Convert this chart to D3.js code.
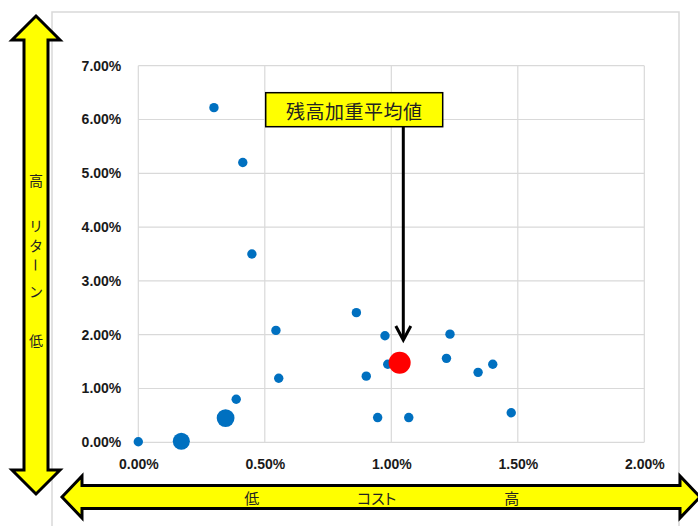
<!DOCTYPE html>
<html>
<head>
<meta charset="utf-8">
<script src="https://cdn.jsdelivr.net/npm/d3@7"></script>
<style>
  html, body { margin: 0; padding: 0; background: #fff; }
  svg { display: block; }
  .tick text { font-family: "Liberation Sans", Arial, sans-serif; font-weight: bold; font-size: 14px; fill: #1a1a1a; }
  .jp { font-family: "Noto Sans CJK JP", sans-serif; fill: #222; }
</style>
</head>
<body>
<svg id="chart" width="698" height="526"></svg>
<script>
// Fund cost (x, %) and return (y, %) with relative balance weight for bubble size
const cost    = [0.000, 0.170, 0.345, 0.387, 0.299, 0.413, 0.449, 0.544, 0.555, 0.862, 0.901, 0.946, 0.975, 0.986, 1.069, 1.218, 1.232, 1.343, 1.401, 1.474];
const returns = [0.01,  0.02,  0.45,  0.80,  6.22,  5.20,  3.50,  2.08,  1.19,  2.41,  1.23,  0.46,  1.98,  1.45,  0.46,  1.56,  2.01,  1.30,  1.45,  0.55];
const weight  = [1,     3.3,   3.6,   1,     1,     1,     1,     1,     1,     1,     1,     1,     1,     1,     1,     1,     1,     1,     1,     1];

// Balance-weighted average
const avgCost = [1.033];
const avgReturn = [1.48];
const avgWeight = [5.5];

const xTicks = [0, 0.5, 1.0, 1.5, 2.0];
const yTicks = [0, 1, 2, 3, 4, 5, 6, 7];

const avgLabel = "残高加重平均値";
const yArrowChars = ["高", "リ", "タ", "ー", "ン", "低"];
const xArrowLabels = ["低", "コスト", "高"];

const svg = d3.select("#chart");
const W = 698, H = 526;

// chart area frame
svg.append("rect")
  .attr("x", 52).attr("y", 12).attr("width", 627).attr("height", 530)
  .attr("fill", "#fff").attr("stroke", "#d9d9d9").attr("stroke-width", 1.5);

const plot = { left: 138.3, right: 644.3, top: 65.7, bottom: 442.3 };

const x = d3.scaleLinear().domain([0, 2]).range([plot.left, plot.right]);
const y = d3.scaleLinear().domain([0, 7]).range([plot.bottom, plot.top]);
const r = d3.scaleSqrt().domain([0, 1]).range([0, 4.7]);

// gridlines
const grid = svg.append("g").attr("stroke", "#d9d9d9").attr("stroke-width", 1.2);
grid.selectAll("line.v").data(xTicks).join("line")
  .attr("x1", d => x(d)).attr("x2", d => x(d))
  .attr("y1", plot.top).attr("y2", plot.bottom);
grid.selectAll("line.h").data(yTicks).join("line")
  .attr("y1", d => y(d)).attr("y2", d => y(d))
  .attr("x1", plot.left).attr("x2", plot.right);

const pct = d => d.toFixed(2) + "%";

// axes (labels only)
const yAxis = svg.append("g")
  .attr("transform", `translate(${plot.left},0)`)
  .call(d3.axisLeft(y).tickValues(yTicks).tickFormat(pct).tickSize(0).tickPadding(17));
const xAxis = svg.append("g")
  .attr("transform", `translate(0,${plot.bottom})`)
  .call(d3.axisBottom(x).tickValues(xTicks).tickFormat(pct).tickSize(0).tickPadding(17));
[xAxis, yAxis].forEach(a => a.select(".domain").remove());
xAxis.selectAll("text").attr("dy", "0.71em");

// fund bubbles
const pts = cost.map((c, i) => ({ c, v: returns[i], w: weight[i] }));
svg.append("g").selectAll("circle").data(pts).join("circle")
  .attr("cx", d => x(d.c)).attr("cy", d => y(d.v)).attr("r", d => r(d.w))
  .attr("fill", "#0070C0");

// weighted average bubble
svg.append("g").selectAll("circle").data(avgCost.map((c, i) => ({ c, v: avgReturn[i], w: avgWeight[i] })))
  .join("circle")
  .attr("cx", d => x(d.c)).attr("cy", d => y(d.v)).attr("r", d => r(d.w))
  .attr("fill", "#FF0000");

// callout box with arrow pointing down to the average
const box = { x: 265.7, y: 92.7, w: 177, h: 34 };
svg.append("rect")
  .attr("x", box.x).attr("y", box.y).attr("width", box.w).attr("height", box.h)
  .attr("fill", "#FFFF00").attr("stroke", "#000").attr("stroke-width", 1.5);
svg.append("text").attr("class", "jp")
  .attr("x", box.x + box.w / 2).attr("y", box.y + box.h / 2 + 1)
  .attr("text-anchor", "middle").attr("dominant-baseline", "central")
  .attr("font-size", 19).attr("letter-spacing", 0.5)
  .text(avgLabel);

const ax = 403.3, ayTop = box.y + box.h, ayTip = 340;
svg.append("line")
  .attr("x1", ax).attr("x2", ax).attr("y1", ayTop).attr("y2", ayTip - 1)
  .attr("stroke", "#000").attr("stroke-width", 3);
svg.append("path")
  .attr("d", `M${ax - 7.5},${ayTip - 14} L${ax},${ayTip} L${ax + 7.5},${ayTip - 14}`)
  .attr("fill", "none").attr("stroke", "#000").attr("stroke-width", 3)
  .attr("stroke-linejoin", "miter");

// vertical double arrow (return)
const vc = 36, vTop = 16, vBot = 494, headL = 24, headHW = 24, shaftHW = 12;
const vPath = [
  [vc, vTop], [vc + headHW, vTop + headL], [vc + shaftHW, vTop + headL],
  [vc + shaftHW, vBot - headL], [vc + headHW, vBot - headL], [vc, vBot],
  [vc - headHW, vBot - headL], [vc - shaftHW, vBot - headL],
  [vc - shaftHW, vTop + headL], [vc - headHW, vTop + headL]
];
svg.append("path")
  .attr("d", d3.line()(vPath) + "Z")
  .attr("fill", "#FFFF00").attr("stroke", "#000").attr("stroke-width", 3)
  .attr("stroke-linejoin", "miter");

const yCharPos = [180, 225, 245, 265, 291, 340];
svg.append("g").selectAll("text").data(yArrowChars).join("text")
  .attr("class", "jp")
  .attr("font-size", 14)
  .attr("text-anchor", "middle").attr("dominant-baseline", "central")
  .attr("transform", (d, i) => `translate(${vc},${yCharPos[i]})` + (d === "ー" ? " rotate(90)" : ""))
  .text(d => d);

// horizontal double arrow (cost)
const hc = 497, hL = 62, hR = 700, hHead = 20, hHeadHW = 21, hShaftHW = 11.5;
const hPath = [
  [hL, hc], [hL + hHead, hc - hHeadHW], [hL + hHead, hc - hShaftHW],
  [hR - hHead, hc - hShaftHW], [hR - hHead, hc - hHeadHW], [hR, hc],
  [hR - hHead, hc + hHeadHW], [hR - hHead, hc + hShaftHW],
  [hL + hHead, hc + hShaftHW], [hL + hHead, hc + hHeadHW]
];
svg.append("path")
  .attr("d", d3.line()(hPath) + "Z")
  .attr("fill", "#FFFF00").attr("stroke", "#000").attr("stroke-width", 3)
  .attr("stroke-linejoin", "miter");

const xLabelPos = [251.7, 376.7, 511.7];
svg.append("g").selectAll("text").data(xArrowLabels).join("text")
  .attr("class", "jp")
  .attr("font-size", 15)
  .style("font-feature-settings", "'palt'")
  .attr("x", (d, i) => xLabelPos[i]).attr("y", hc)
  .attr("text-anchor", "middle").attr("dominant-baseline", "central")
  .text(d => d);
</script>
</body>
</html>
